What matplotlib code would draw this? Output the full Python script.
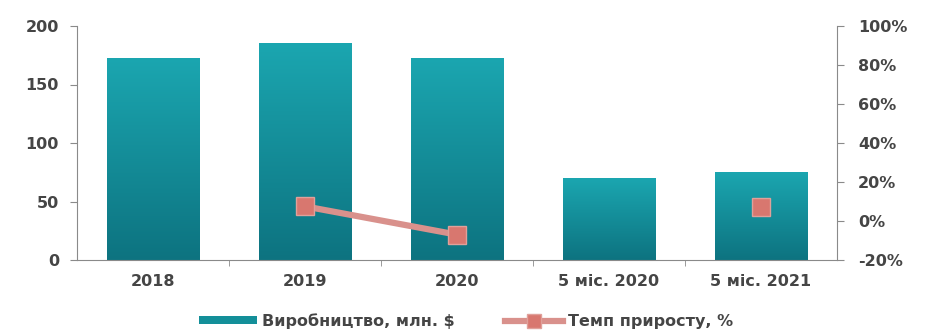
import matplotlib
matplotlib.use("Agg")
import matplotlib.pyplot as plt
import numpy as np
from matplotlib.ticker import FuncFormatter, FixedLocator
from matplotlib.colors import LinearSegmentedColormap

categories = ["2018", "2019", "2020", "5 міс. 2020", "5 міс. 2021"]
production = [172, 185, 172, 70, 75]
growth = [np.nan, 7.5, -7.0, np.nan, 7.0]
bar_label = "Виробництво, млн. $"
line_label = "Темп приросту, %"

plt.rcParams['font.family'] = ['DejaVu Sans']
plt.rcParams['font.weight'] = 'bold'
text_color = "#454545"
axis_color = "#8a8a8a"
fs = 11.5

fig = plt.figure(figsize=(9.32, 3.34), dpi=100)
ax = fig.add_axes([77/932, 1-260/334, (837-77)/932, (260-26)/334])
ax2 = ax.twinx()

x = np.arange(len(categories))
bw = 0.61
bars = ax.bar(x, production, width=bw, color="#138f99", zorder=2, label=bar_label)
grad = np.linspace(0, 1, 256).reshape(-1, 1)
cmap = LinearSegmentedColormap.from_list("tg", ["#0d7380", "#1ba6b0"])
for b in bars:
    x0, y0 = b.get_x(), b.get_y()
    w, h = b.get_width(), b.get_height()
    ax.imshow(grad, extent=[x0, x0 + w, y0, y0 + h], origin="lower", cmap=cmap,
              aspect="auto", zorder=2.5)
ax.set_xlim(-0.5, len(categories) - 0.5)
ax.set_ylim(0, 200)
ax.set_yticks([0, 50, 100, 150, 200])

xs = np.array(x, dtype=float)
g = np.array(growth, dtype=float)
ax2.plot(xs, g, color="#d9918c", lw=4.5, marker="s", markersize=13,
         markerfacecolor="#d8776f", markeredgecolor="#e0a09a", markeredgewidth=1,
         zorder=5, label=line_label)
ax2.set_ylim(-20, 100)
ax2.set_yticks([-20, 0, 20, 40, 60, 80, 100])
ax2.yaxis.set_major_formatter(FuncFormatter(lambda v, p: f"{int(v)}%"))

for a in (ax, ax2):
    a.spines["top"].set_visible(False)
    a.tick_params(colors=text_color, labelsize=fs, length=5, color=axis_color)
ax.spines["right"].set_visible(False)
ax2.spines["left"].set_visible(False)
ax2.spines["bottom"].set_visible(False)
ax.spines["left"].set_color(axis_color)
ax.spines["bottom"].set_color(axis_color)
ax2.spines["right"].set_color(axis_color)

ax.set_xticks(x)
ax.set_xticklabels(categories)
ax.tick_params(axis="x", length=0, pad=10)
ax.xaxis.set_minor_locator(FixedLocator(np.arange(0.5, len(categories) - 1, 1.0)))
ax.tick_params(axis="x", which="minor", length=4, color=axis_color)
ax.tick_params(axis="y", pad=8)
ax2.tick_params(axis="y", pad=10)
ax2.set_zorder(ax.get_zorder() + 1)
ax2.patch.set_visible(False)

h1, l1 = ax.get_legend_handles_labels()
h2, l2 = ax2.get_legend_handles_labels()
leg = fig.legend(h1 + h2, l1 + l2, loc="center", bbox_to_anchor=(0.5, 1 - 321/334),
                 ncol=2, frameon=False, fontsize=fs, handlelength=3.6,
                 handleheight=0.4, columnspacing=3.2, handletextpad=0.3,
                 markerscale=0.8)
for t in leg.get_texts():
    t.set_color(text_color)

fig.savefig("out.png", dpi=100)
